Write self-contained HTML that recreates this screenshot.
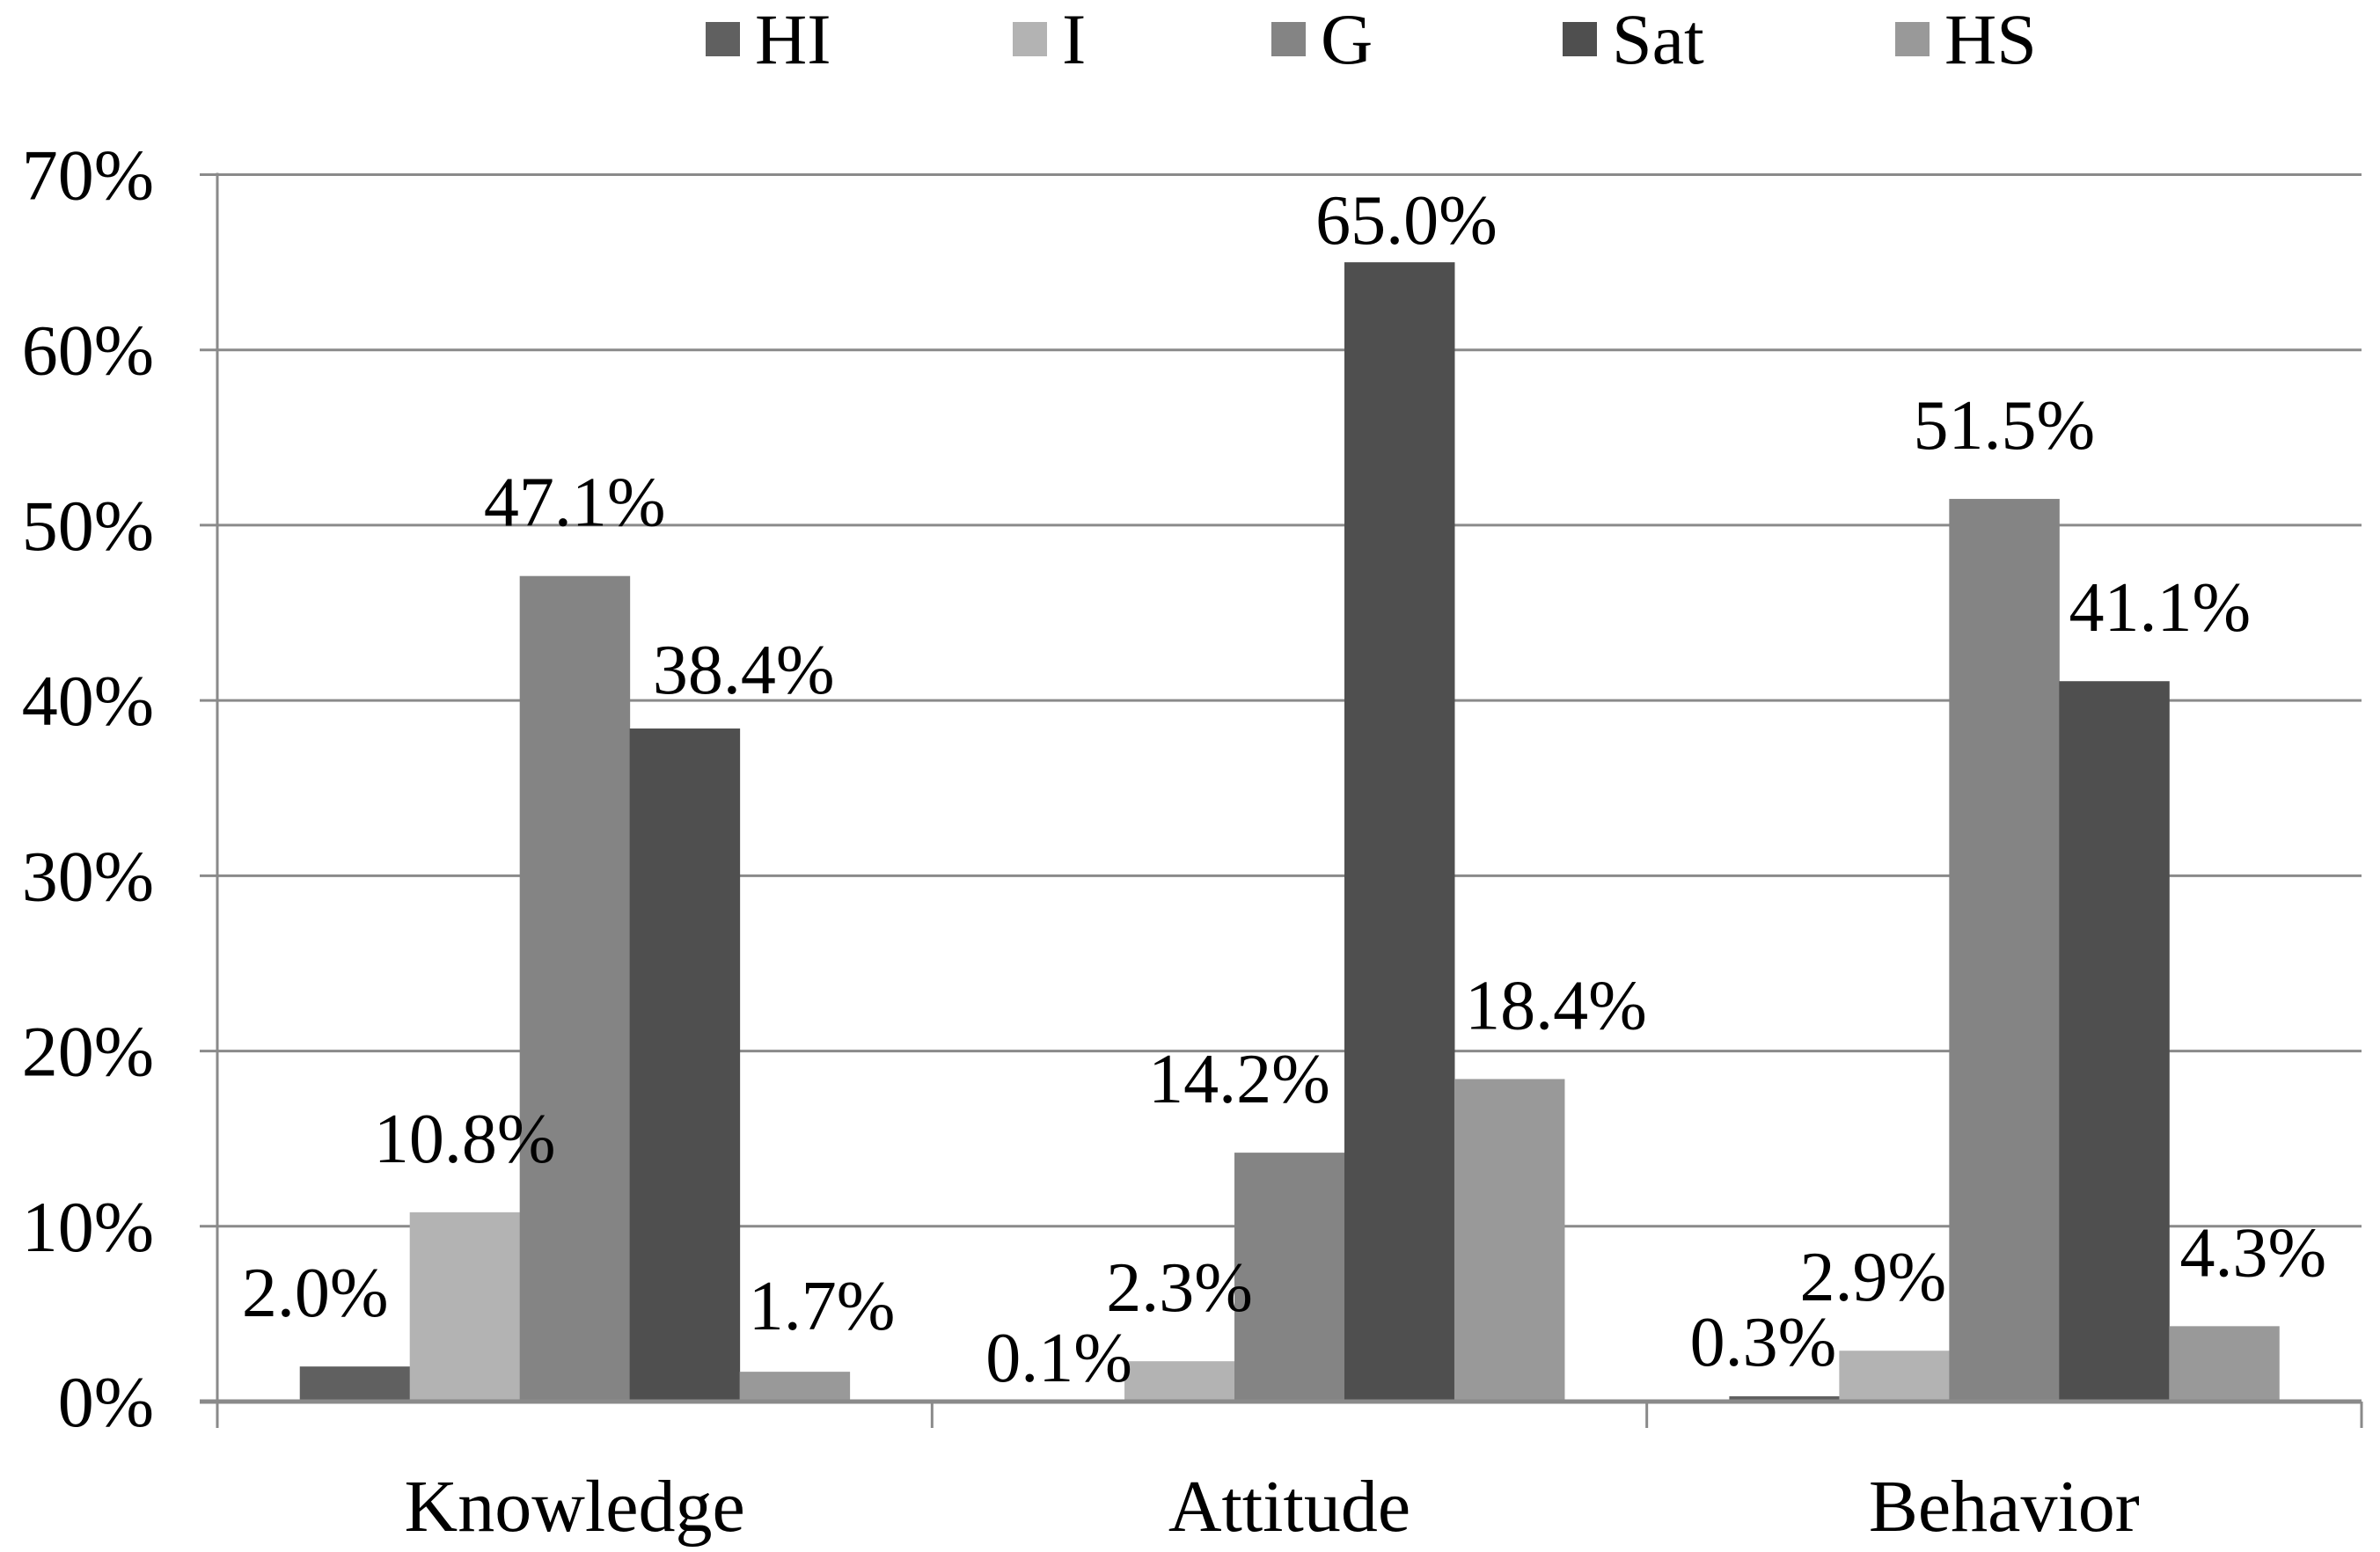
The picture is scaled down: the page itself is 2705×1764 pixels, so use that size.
<!DOCTYPE html>
<html><head><meta charset="utf-8">
<style>
html,body{margin:0;padding:0;background:#fff;}
svg{display:block;}
text{font-family:"Liberation Serif",serif;fill:#000;}
</style></head>
<body>
<svg id="chart" width="2705" height="1764" viewBox="0 0 2705 1764" xmlns="http://www.w3.org/2000/svg">
<g id="grid"></g>
<g id="bars"></g>
<g id="axes"></g>
<g id="labels"></g>
<g id="legend"></g>
</svg>
<script>
const categories = ["Knowledge", "Attitude", "Behavior"];
const seriesNames = ["HI", "I", "G", "Sat", "HS"];
const seriesHI = [2.0, 0.1, 0.3];
const seriesI = [10.8, 2.3, 2.9];
const seriesG = [47.1, 14.2, 51.5];
const seriesSat = [38.4, 65.0, 41.1];
const seriesHS = [1.7, 18.4, 4.3];
const yTicks = [0, 10, 20, 30, 40, 50, 60, 70];

// styling (not data)
const colors = ["#606060", "#b3b3b3", "#848484", "#4f4f4f", "#999999"];
const labelDx = [[-45,0,0,67,31],[-12,0,-57,8,53],[-24,-24,0,0,52+0,]];
labelDx[2] = [-24,-24,0,52,33];
const labelGap = [[57,57,57,40,48],[21,57,57,21,57],[35,57,57,57,57]];

const NS = "http://www.w3.org/2000/svg";
const X0 = 247, X1 = 2684, Y0 = 1593, YTOP = 198.5, YMAX = 70;
const catW = (X1 - X0) / categories.length;
const barW = catW / 6.5;
const y = v => Y0 - (v / YMAX) * (Y0 - YTOP);
const xBar = (c, s) => X0 + c * catW + barW * 0.75 + s * barW;
const allSeries = [seriesHI, seriesI, seriesG, seriesSat, seriesHS];

function mk(tag, attrs, parent) {
  const e = document.createElementNS(NS, tag);
  for (const k in attrs) e.setAttribute(k, attrs[k]);
  parent.appendChild(e);
  return e;
}
const grid = document.getElementById("grid");
const bars = document.getElementById("bars");
const axes = document.getElementById("axes");
const labels = document.getElementById("labels");
const legend = document.getElementById("legend");

yTicks.forEach(t => {
  if (t > 0) {
    const l = mk("line", {x1: X0 - 20, x2: X1, y1: y(t), y2: y(t), stroke: "#8a8a8a", "stroke-width": 3}, grid);
    
    
  }
  const tx = mk("text", {x: 175, y: y(t) + 28, "text-anchor": "end", "font-size": 82}, axes);
  tx.textContent = t + "%";
  
  
});

allSeries.forEach((vals, s) => {
  vals.forEach((v, c) => {
    const r = mk("rect", {x: xBar(c, s), y: y(v), width: barW + 0.5, height: Y0 - y(v), fill: colors[s]}, bars);
    
    
    const t = mk("text", {x: xBar(c, s) + barW / 2 + labelDx[c][s], y: y(v) - labelGap[c][s], "text-anchor": "middle", "font-size": 80}, labels);
    t.textContent = v.toFixed(1) + "%";
    
    
  });
});

// axes
const ya = mk("line", {x1: X0, x2: X0, y1: YTOP - 2, y2: Y0 + 30, stroke: "#8a8a8a", "stroke-width": 3}, axes);


const xa = mk("line", {x1: X0 - 20, x2: X1, y1: Y0, y2: Y0, stroke: "#8a8a8a", "stroke-width": 5}, axes);


for (let i = 1; i <= categories.length; i++) {
  const tk = mk("line", {x1: X0 + i * catW, x2: X0 + i * catW, y1: Y0, y2: Y0 + 30, stroke: "#8a8a8a", "stroke-width": 3}, axes);
  
  
}
categories.forEach((c, i) => {
  const t = mk("text", {x: X0 + (i + 0.5) * catW, y: 1740, "text-anchor": "middle", "font-size": 84}, axes);
  t.textContent = c;
  
  
});

// legend
const legSq = [802, 1151, 1445, 1776, 2154];
seriesNames.forEach((n, s) => {
  const g = mk("g", {}, legend);
  
  
  mk("rect", {x: legSq[s], y: 25, width: 39, height: 39, fill: colors[s]}, g);
  const t = mk("text", {x: legSq[s] + 56, y: 72, "font-size": 82}, g);
  t.textContent = n;
});
</script>
</body></html>
